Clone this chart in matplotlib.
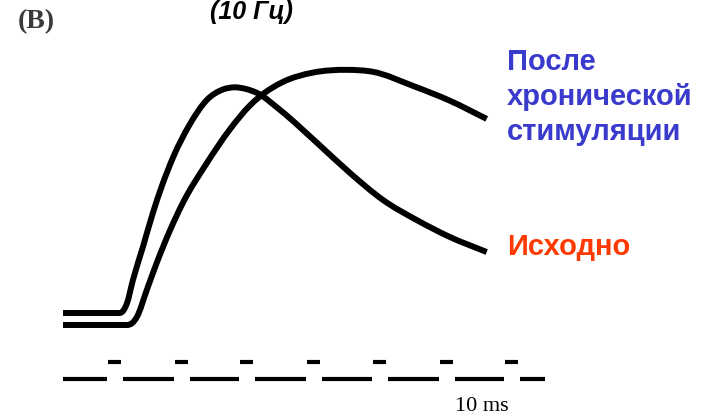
import matplotlib
matplotlib.use("Agg")
import matplotlib.pyplot as plt
from matplotlib.path import Path
from matplotlib.patches import PathPatch

# Twitch traces (time in ms, tension relative to control peak)
t_control = [0.0, 8.6, 9.2, 9.7, 10.6, 12.1, 13.6, 15.0, 16.7, 19.2, 21.8, 24.2,
             26.0, 27.8, 29.4, 32.9, 38.5, 43.5, 48.5, 53.6, 58.6, 64.2]
f_control = [0.0, 0.0, 0.013, 0.044, 0.147, 0.293, 0.443, 0.566, 0.693, 0.838, 0.947, 0.993,
             1.003, 0.995, 0.978, 0.902, 0.756, 0.622, 0.502, 0.413, 0.338, 0.271]

t_after = [0.0, 9.7, 10.5, 11.2, 12.7, 14.2, 16.2, 18.2, 21.8, 25.3, 28.3, 29.8,
           33.3, 37.9, 43.0, 47.0, 53.0, 58.6, 64.2]
f_after = [0.0, 0.0, 0.009, 0.036, 0.156, 0.276, 0.42, 0.545, 0.72, 0.87, 0.975, 1.015,
           1.08, 1.122, 1.134, 1.125, 1.063, 0.997, 0.916]

# 10 ms time marker
marker_onsets = [6.8, 17.0, 26.8, 37.0, 47.0, 57.1, 67.0]
marker_width = 2.0
marker_end = 73.0

label_after = "После\nхронической\nстимуляции"
label_control = "Исходно"
panel_label = "(B)"
freq_label = "(10 Гц)"
scale_label = "10 ms"


def smooth_path(xs, ys):
    """Cubic Hermite curve through the points, written as Bezier segments."""
    n = len(xs)
    h = [xs[i + 1] - xs[i] for i in range(n - 1)]
    s = [(ys[i + 1] - ys[i]) / h[i] for i in range(n - 1)]
    m = [0.0] * n
    m[0], m[-1] = s[0], s[-1]
    for i in range(1, n - 1):
        s0, s1, h0, h1 = s[i - 1], s[i], h[i - 1], h[i]
        if s0 == 0 or s1 == 0:
            m[i] = 0.0          # keep the flat baseline flat up to the onset
        else:
            m[i] = (s0 * h1 + s1 * h0) / (h0 + h1)
    verts = [(xs[0], ys[0])]
    codes = [Path.MOVETO]
    for i in range(n - 1):
        d = h[i] / 3
        verts += [(xs[i] + d, ys[i] + m[i] * d),
                  (xs[i + 1] - d, ys[i + 1] - m[i + 1] * d),
                  (xs[i + 1], ys[i + 1])]
        codes += [Path.CURVE4] * 3
    return Path(verts, codes)


W, H = 705, 415
fig = plt.figure(figsize=(W / 100, H / 100), dpi=100)
ax = fig.add_axes([0, 0, 1, 1])
ax.set_xlim(-63 / 6.6, (W - 63) / 6.6)
ax.set_ylim(-(H - 313) / 225, 313 / 225)
ax.axis("off")

after_offset = -12 / 225
lw = 4.3
for xs, ys in [(t_control, f_control),
               (t_after, [v + after_offset for v in f_after])]:
    ax.add_patch(PathPatch(smooth_path(xs, ys), facecolor="none", edgecolor="black",
                           lw=lw, capstyle="butt", joinstyle="round"))

# time marker: low segments between short raised pulses
low_y = -(379 - 313) / 225
high_y = -(362 - 313) / 225
starts = [0.0] + [o + marker_width + 0.3 for o in marker_onsets]
ends = [o - 0.2 for o in marker_onsets] + [marker_end]
ax.hlines([low_y] * len(starts), starts, ends, color="black", lw=3.0)
ax.hlines([high_y] * len(marker_onsets), marker_onsets,
          [o + marker_width for o in marker_onsets], color="black", lw=3.0)

fig.text(18 / W, 1 - 22 / H, panel_label, family="Liberation Serif", fontsize=20,
         fontweight="bold", color="#3a3a3a", va="center", ha="left")
fig.text(252 / W, 1 - 12 / H, freq_label, family="Liberation Sans", fontsize=18,
         fontweight="bold", style="italic", va="center", ha="center")
fig.text(507 / W, 1 - 97 / H, label_after, family="Liberation Sans", fontsize=21,
         fontweight="bold", color="#3a3acc", va="center", ha="left", linespacing=1.31)
fig.text(507 / W, 1 - 247 / H, label_control, family="Liberation Sans", fontsize=21,
         fontweight="bold", color="#ff3a00", va="center", ha="left")
fig.text(482 / W, 1 - 406 / H, scale_label, family="Liberation Serif", fontsize=16,
         va="center", ha="center")

fig.savefig("out.png", dpi=100)
